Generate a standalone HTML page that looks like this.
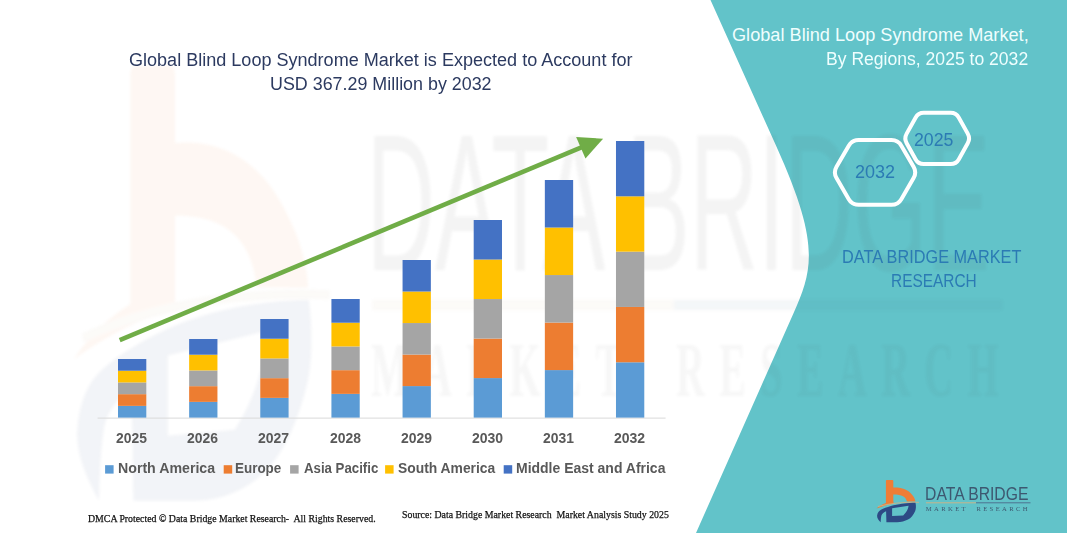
<!DOCTYPE html>
<html><head><meta charset="utf-8"><title>Global Blind Loop Syndrome Market</title>
<style>
html,body{margin:0;padding:0;}
body{width:1067px;height:533px;position:relative;overflow:hidden;background:#fff;}
.t{position:absolute;white-space:pre;line-height:1;transform-origin:0 0;}
svg.main{position:absolute;left:0;top:0;}
</style></head><body>
<svg class="main" width="1067" height="533" viewBox="0 0 1067 533">
<path d="M710.5,0 L1067,0 L1067,533 L696,533 L793.4,313.5 C813.4,268.5 819.9,243.1 776.2,146.1 Z" fill="#62c3c9"/>
<defs><filter id="wb" x="-5%" y="-5%" width="110%" height="110%"><feGaussianBlur stdDeviation="1.4"/></filter></defs><g opacity="0.06" filter="url(#wb)"><g transform="translate(374 270) scale(6.03 10.3) translate(-926.3 -499.9)"><path d="M885.9,481 Q885.9,480.1 886.8,480.1 L892.4,480.1 Q893.3,480.1 893.3,481 L893.3,487.6 C899,487.2 906,488.5 910.5,493 C913.5,496 915,498.5 915.4,501.6 L906.9,501.6 C906,497 902,494.6 893.3,494.6 L893.3,503 L885.9,503.6 Z" fill="#ef7d36"/>
<path d="M893.3,501.6 C888,502 881,504.5 876.5,508.6 C881,506.6 888,504.4 893.3,503.7 Z" fill="#ef7d36"/>
<path d="M878,506.5 Q895,501.8 919,502.3" stroke="#c8b48a" stroke-width="0.9" fill="none"/>
<path d="M880.7,522.3 C878.5,520 876.8,517.5 877.1,515.4 C877.5,512.5 879,510.8 881,509.7 C886,507 895,504.5 902,503.7 C908,503 912,502.8 915.5,502.8 C916.2,506 916,509 915.2,511 C913.5,515 911,518 908,519.6 C905,521.3 901,522.2 897,522.3 L886.4,522.3 L886.1,511.2 C884,512.3 882.2,513.5 881.6,515 C881,517 880.8,519.5 880.7,522.3 Z M892.1,508.2 L908.6,505.8 C908.2,509 906.5,512.5 903.2,515.4 L892.1,516 Z" fill="#2d4a85" fill-rule="evenodd"/>
<line x1="926" y1="503.3" x2="976" y2="503.3" stroke="#c8b48a" stroke-width="1"/>
<line x1="976" y1="503.3" x2="1030.5" y2="503.3" stroke="#4d7390" stroke-width="1"/>
<text transform="translate(925.05 499.9) scale(0.835 1)" font-family="'Liberation Sans', sans-serif" font-size="18.84" fill="#4a4a4a">DATA BRIDGE</text>
<text x="925.8" y="512.15" font-family="'Liberation Serif', serif" font-size="6.6" letter-spacing="2.4" fill="#4a4a4a" font-weight="700" opacity="0.75" transform="translate(0 512.15) scale(1 1.15) translate(0 -512.15)">MARKET</text>
<text x="976.4" y="512.15" font-family="'Liberation Serif', serif" font-size="6.6" letter-spacing="2.4" fill="#4a4a4a" font-weight="700" opacity="0.75" transform="translate(0 512.15) scale(1 1.15) translate(0 -512.15)">RESEARCH</text></g></g>
<line x1="97.6" y1="418.1" x2="665.6" y2="418.1" stroke="#d9d9d9" stroke-width="1"/>
<rect x="118.00" y="405.88" width="28.3" height="11.72" fill="#5b9bd5"/>
<rect x="118.00" y="394.16" width="28.3" height="11.72" fill="#ed7d31"/>
<rect x="118.00" y="382.44" width="28.3" height="11.72" fill="#a5a5a5"/>
<rect x="118.00" y="370.72" width="28.3" height="11.72" fill="#ffc000"/>
<rect x="118.00" y="359.00" width="28.3" height="11.72" fill="#4472c4"/>
<rect x="189.14" y="401.88" width="28.3" height="15.72" fill="#5b9bd5"/>
<rect x="189.14" y="386.16" width="28.3" height="15.72" fill="#ed7d31"/>
<rect x="189.14" y="370.44" width="28.3" height="15.72" fill="#a5a5a5"/>
<rect x="189.14" y="354.72" width="28.3" height="15.72" fill="#ffc000"/>
<rect x="189.14" y="339.00" width="28.3" height="15.72" fill="#4472c4"/>
<rect x="260.28" y="397.88" width="28.3" height="19.72" fill="#5b9bd5"/>
<rect x="260.28" y="378.16" width="28.3" height="19.72" fill="#ed7d31"/>
<rect x="260.28" y="358.44" width="28.3" height="19.72" fill="#a5a5a5"/>
<rect x="260.28" y="338.72" width="28.3" height="19.72" fill="#ffc000"/>
<rect x="260.28" y="319.00" width="28.3" height="19.72" fill="#4472c4"/>
<rect x="331.42" y="393.88" width="28.3" height="23.72" fill="#5b9bd5"/>
<rect x="331.42" y="370.16" width="28.3" height="23.72" fill="#ed7d31"/>
<rect x="331.42" y="346.44" width="28.3" height="23.72" fill="#a5a5a5"/>
<rect x="331.42" y="322.72" width="28.3" height="23.72" fill="#ffc000"/>
<rect x="331.42" y="299.00" width="28.3" height="23.72" fill="#4472c4"/>
<rect x="402.56" y="386.08" width="28.3" height="31.52" fill="#5b9bd5"/>
<rect x="402.56" y="354.56" width="28.3" height="31.52" fill="#ed7d31"/>
<rect x="402.56" y="323.04" width="28.3" height="31.52" fill="#a5a5a5"/>
<rect x="402.56" y="291.52" width="28.3" height="31.52" fill="#ffc000"/>
<rect x="402.56" y="260.00" width="28.3" height="31.52" fill="#4472c4"/>
<rect x="473.70" y="378.08" width="28.3" height="39.52" fill="#5b9bd5"/>
<rect x="473.70" y="338.56" width="28.3" height="39.52" fill="#ed7d31"/>
<rect x="473.70" y="299.04" width="28.3" height="39.52" fill="#a5a5a5"/>
<rect x="473.70" y="259.52" width="28.3" height="39.52" fill="#ffc000"/>
<rect x="473.70" y="220.00" width="28.3" height="39.52" fill="#4472c4"/>
<rect x="544.84" y="370.08" width="28.3" height="47.52" fill="#5b9bd5"/>
<rect x="544.84" y="322.56" width="28.3" height="47.52" fill="#ed7d31"/>
<rect x="544.84" y="275.04" width="28.3" height="47.52" fill="#a5a5a5"/>
<rect x="544.84" y="227.52" width="28.3" height="47.52" fill="#ffc000"/>
<rect x="544.84" y="180.00" width="28.3" height="47.52" fill="#4472c4"/>
<rect x="615.98" y="362.28" width="28.3" height="55.32" fill="#5b9bd5"/>
<rect x="615.98" y="306.96" width="28.3" height="55.32" fill="#ed7d31"/>
<rect x="615.98" y="251.64" width="28.3" height="55.32" fill="#a5a5a5"/>
<rect x="615.98" y="196.32" width="28.3" height="55.32" fill="#ffc000"/>
<rect x="615.98" y="141.00" width="28.3" height="55.32" fill="#4472c4"/>
<rect x="105.1" y="465.2" width="8.5" height="8.4" fill="#5b9bd5"/>
<rect x="223.7" y="465.2" width="8.5" height="8.4" fill="#ed7d31"/>
<rect x="290.1" y="465.2" width="8.5" height="8.4" fill="#a5a5a5"/>
<rect x="385.1" y="465.2" width="8.5" height="8.4" fill="#ffc000"/>
<rect x="503.7" y="465.2" width="8.5" height="8.4" fill="#4472c4"/>
<line x1="119.7" y1="340.2" x2="582" y2="147.2" stroke="#70ad47" stroke-width="4.5"/>
<polygon points="603.1,138.7 576.1,136.9 585.5,158.6" fill="#70ad47"/>
<g fill="none" stroke="#fff" stroke-width="4"><path d="M906.67,143.26 Q904.00,138.45 906.67,133.64 L915.53,117.66 Q918.20,112.85 923.70,112.85 L950.70,112.85 Q956.20,112.85 958.87,117.66 L967.73,133.64 Q970.40,138.45 967.73,143.26 L958.87,159.24 Q956.20,164.05 950.70,164.05 L923.70,164.05 Q918.20,164.05 915.53,159.24 Z"/><path d="M836.52,178.07 Q833.25,172.45 836.52,166.83 L848.78,145.72 Q852.05,140.10 858.55,140.10 L891.55,140.10 Q898.05,140.10 901.32,145.72 L913.58,166.83 Q916.85,172.45 913.58,178.07 L901.32,199.18 Q898.05,204.80 891.55,204.80 L858.55,204.80 Q852.05,204.80 848.78,199.18 Z"/></g>
<path d="M885.9,481 Q885.9,480.1 886.8,480.1 L892.4,480.1 Q893.3,480.1 893.3,481 L893.3,487.6 C899,487.2 906,488.5 910.5,493 C913.5,496 915,498.5 915.4,501.6 L906.9,501.6 C906,497 902,494.6 893.3,494.6 L893.3,503 L885.9,503.6 Z" fill="#ef7d36"/>
<path d="M893.3,501.6 C888,502 881,504.5 876.5,508.6 C881,506.6 888,504.4 893.3,503.7 Z" fill="#ef7d36"/>
<path d="M878,506.5 Q895,501.8 919,502.3" stroke="#c8b48a" stroke-width="0.9" fill="none"/>
<path d="M880.7,522.3 C878.5,520 876.8,517.5 877.1,515.4 C877.5,512.5 879,510.8 881,509.7 C886,507 895,504.5 902,503.7 C908,503 912,502.8 915.5,502.8 C916.2,506 916,509 915.2,511 C913.5,515 911,518 908,519.6 C905,521.3 901,522.2 897,522.3 L886.4,522.3 L886.1,511.2 C884,512.3 882.2,513.5 881.6,515 C881,517 880.8,519.5 880.7,522.3 Z M892.1,508.2 L908.6,505.8 C908.2,509 906.5,512.5 903.2,515.4 L892.1,516 Z" fill="#2d4a85" fill-rule="evenodd"/>
<line x1="926" y1="502.8" x2="976" y2="502.8" stroke="#c8b48a" stroke-width="1"/>
<line x1="976" y1="502.8" x2="1030.5" y2="502.8" stroke="#4d7390" stroke-width="1"/>
<text transform="translate(925.05 499.9) scale(0.835 1)" font-family="'Liberation Sans', sans-serif" font-size="18.84" fill="#3d5870">DATA BRIDGE</text>
<text x="925.8" y="511.3" font-family="'Liberation Serif', serif" font-size="6.6" letter-spacing="2.4" fill="#3d5870">MARKET</text>
<text x="976.4" y="511.3" font-family="'Liberation Serif', serif" font-size="6.6" letter-spacing="2.4" fill="#3d5870">RESEARCH</text>
</svg>
<span class="t" style="left:129.10px;top:50.86px;font-family:'Liberation Sans', sans-serif;font-weight:400;font-size:18.41px;color:#2c3a60;transform:scaleX(0.9803);">Global Blind Loop Syndrome Market is Expected to Account for</span>
<span class="t" style="left:269.87px;top:75.11px;font-family:'Liberation Sans', sans-serif;font-weight:400;font-size:18.41px;color:#2c3a60;transform:scaleX(0.9710);">USD 367.29 Million by 2032</span>
<span class="t" style="left:731.79px;top:27.12px;font-family:'Liberation Sans', sans-serif;font-weight:400;font-size:17.97px;color:#effefe;transform:scaleX(1.0112);">Global Blind Loop Syndrome Market,</span>
<span class="t" style="left:825.99px;top:51.27px;font-family:'Liberation Sans', sans-serif;font-weight:400;font-size:17.68px;color:#effefe;transform:scaleX(0.9940);">By Regions, 2025 to 2032</span>
<span class="t" style="left:914.31px;top:131.82px;font-family:'Liberation Sans', sans-serif;font-weight:400;font-size:17.97px;color:#2b7bb4;transform:scaleX(0.9875);">2025</span>
<span class="t" style="left:855.10px;top:163.23px;font-family:'Liberation Sans', sans-serif;font-weight:400;font-size:18.55px;color:#2b7bb4;transform:scaleX(0.9713);">2032</span>
<span class="t" style="left:842.10px;top:247.53px;font-family:'Liberation Sans', sans-serif;font-weight:400;font-size:18.55px;color:#2b7bb4;transform:scaleX(0.8782);">DATA BRIDGE MARKET</span>
<span class="t" style="left:891.36px;top:271.88px;font-family:'Liberation Sans', sans-serif;font-weight:400;font-size:18.26px;color:#2b7bb4;transform:scaleX(0.8458);">RESEARCH</span>
<span class="t" style="left:116.18px;top:432.10px;font-family:'Liberation Sans', sans-serif;font-weight:700;font-size:13.77px;color:#595959;transform:scaleX(1.0075);">2025</span>
<span class="t" style="left:187.32px;top:432.10px;font-family:'Liberation Sans', sans-serif;font-weight:700;font-size:13.77px;color:#595959;transform:scaleX(1.0121);">2026</span>
<span class="t" style="left:258.46px;top:432.10px;font-family:'Liberation Sans', sans-serif;font-weight:700;font-size:13.77px;color:#595959;transform:scaleX(1.0168);">2027</span>
<span class="t" style="left:329.60px;top:432.10px;font-family:'Liberation Sans', sans-serif;font-weight:700;font-size:13.77px;color:#595959;transform:scaleX(1.0121);">2028</span>
<span class="t" style="left:400.74px;top:432.10px;font-family:'Liberation Sans', sans-serif;font-weight:700;font-size:13.77px;color:#595959;transform:scaleX(1.0121);">2029</span>
<span class="t" style="left:471.88px;top:432.10px;font-family:'Liberation Sans', sans-serif;font-weight:700;font-size:13.77px;color:#595959;transform:scaleX(1.0168);">2030</span>
<span class="t" style="left:543.02px;top:432.10px;font-family:'Liberation Sans', sans-serif;font-weight:700;font-size:13.77px;color:#595959;transform:scaleX(1.0075);">2031</span>
<span class="t" style="left:614.16px;top:432.10px;font-family:'Liberation Sans', sans-serif;font-weight:700;font-size:13.77px;color:#595959;transform:scaleX(1.0168);">2032</span>
<span class="t" style="left:117.91px;top:461.85px;font-family:'Liberation Sans', sans-serif;font-weight:700;font-size:13.77px;color:#595959;transform:scaleX(1.0290);">North America</span>
<span class="t" style="left:235.46px;top:461.85px;font-family:'Liberation Sans', sans-serif;font-weight:700;font-size:13.77px;color:#595959;transform:scaleX(0.9764);">Europe</span>
<span class="t" style="left:303.50px;top:461.85px;font-family:'Liberation Sans', sans-serif;font-weight:700;font-size:13.77px;color:#595959;transform:scaleX(0.9606);">Asia Pacific</span>
<span class="t" style="left:397.88px;top:461.85px;font-family:'Liberation Sans', sans-serif;font-weight:700;font-size:13.77px;color:#595959;transform:scaleX(1.0065);">South America</span>
<span class="t" style="left:515.92px;top:461.85px;font-family:'Liberation Sans', sans-serif;font-weight:700;font-size:13.77px;color:#595959;transform:scaleX(1.0156);">Middle East and Africa</span>
<span class="t" style="left:87.91px;top:513.11px;font-family:'Liberation Serif', serif;font-weight:400;font-size:11.08px;color:#111;transform:scaleX(0.8867);-webkit-text-stroke:0.25px #111;">DMCA Protected © Data Bridge Market Research-  All Rights Reserved.</span>
<span class="t" style="left:402.21px;top:509.21px;font-family:'Liberation Serif', serif;font-weight:400;font-size:11.08px;color:#111;transform:scaleX(0.8877);-webkit-text-stroke:0.25px #111;">Source: Data Bridge Market Research  Market Analysis Study 2025</span>
</body></html>
